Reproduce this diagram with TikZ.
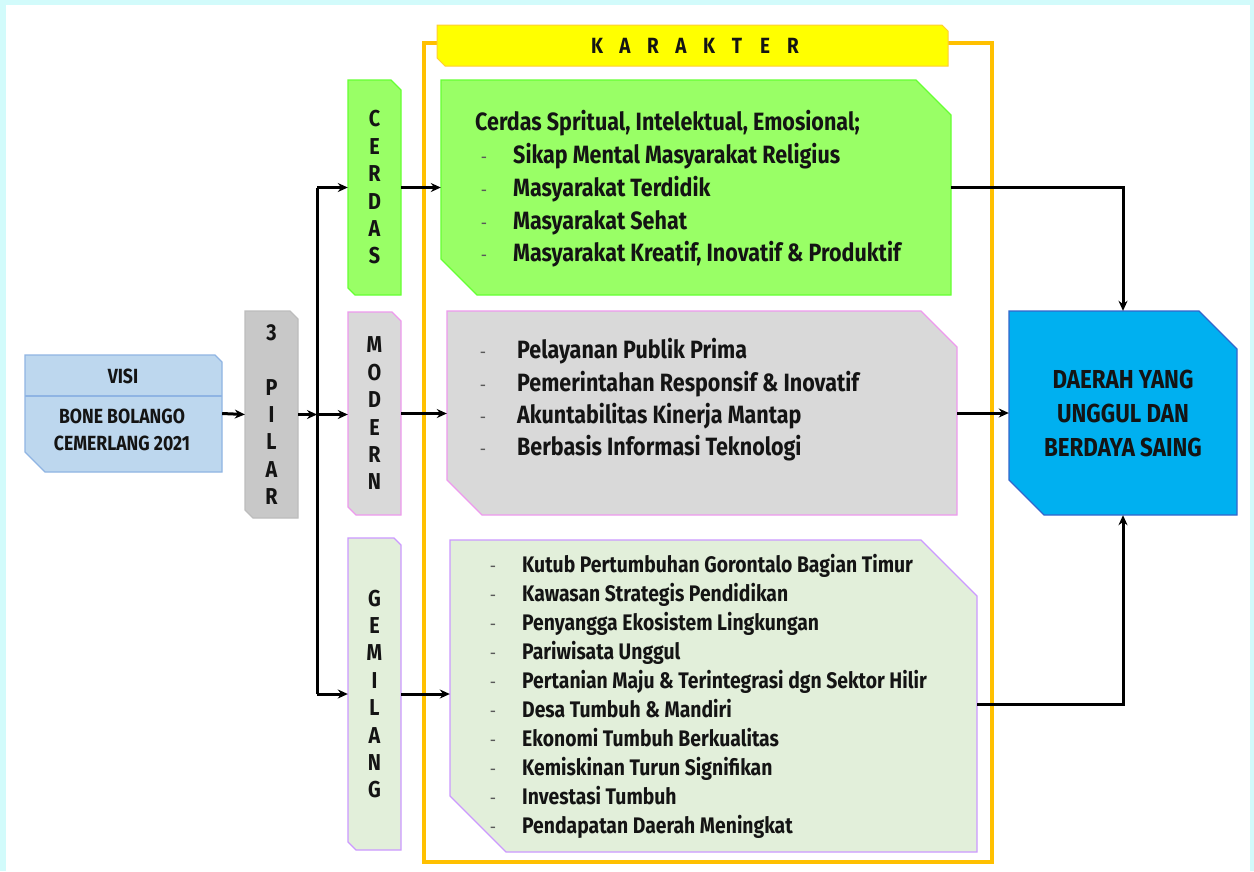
\documentclass[tikz,border=0pt]{standalone}
\usepackage{fontspec}
\setmainfont{Fira Sans}[FakeStretch=0.86]
\usetikzlibrary{fit,arrows.meta}
\definecolor{ink}{HTML}{141414}
\definecolor{bgcyan}{HTML}{D2FBFB}
\definecolor{visifill}{HTML}{BDD7EE}
\definecolor{visiline}{HTML}{8FB4E3}
\definecolor{pilarfill}{HTML}{C8C8C8}
\definecolor{pilarline}{HTML}{BDBDBD}
\definecolor{grfill}{HTML}{99FF66}
\definecolor{grline}{HTML}{66FF33}
\definecolor{gyfill}{HTML}{D9D9D9}
\definecolor{gyline}{HTML}{EE99EE}
\definecolor{lgfill}{HTML}{E2EFDA}
\definecolor{lgline}{HTML}{CC99FF}
\definecolor{blfill}{HTML}{00B0F0}
\definecolor{blline}{HTML}{3366CC}
\definecolor{orng}{HTML}{FFC000}
\definecolor{yel}{HTML}{FFFF00}
\newcommand\cbox[8]{%
  \path (#2,#3) coordinate (#1-nw) (#4,#5) coordinate (#1-se);
  \node[fit=(#1-nw)(#1-se), inner sep=0pt, draw=none] (#1) {};
  \draw[#8] (#2,#3) -- ({#4-#6},#3) -- (#4,{#3+#6}) -- (#4,#5) -- ({#2+#7},#5) -- (#2,{#5-#7}) -- cycle;
}
\newcommand\lsp[1]{\makebox[28pt]{#1}}
\begin{document}
\begin{tikzpicture}[x=1pt,y=-1pt,
  conn/.style={line width=3pt, draw=black},
  arr/.style={conn, -{Stealth[length=10pt,width=9pt]}},
  txt/.style={anchor=base west, inner sep=0pt, text=ink, font=\bfseries\fontsize{25}{30}\selectfont},
  stxt/.style={anchor=base west, inner sep=0pt, text=ink, font=\bfseries\fontsize{22.5}{26}\selectfont},
  dsh/.style={anchor=base, inner sep=0pt, text=black!65, font=\fontsize{18}{20}\selectfont},
  vtxt/.style={align=center, inner sep=0pt, text=ink, font=\bfseries\fontsize{23}{27.4}\selectfont},
]
\useasboundingbox (0,0) rectangle (1254,871);
\fill[bgcyan] (0,0) rectangle (1254,871);
\fill[white] (6,5) rectangle (1250,871);

% left column
\cbox{visi}{25}{355}{222}{472}{7}{20}{fill=visifill, draw=visiline, line width=1.3pt}
\draw[visiline, line width=1.3pt] (25,396) -- (222,396);
\node[text=ink, font=\bfseries\fontsize{20.5}{27}\selectfont, inner sep=0pt] (visiT) at (123,376) {VISI};
\node[text=ink, font=\bfseries\fontsize{20.5}{27}\selectfont, inner sep=0pt, align=center] (visiB) at (122,430) {BONE BOLANGO\\CEMERLANG 2021};

\cbox{pilar}{245}{311}{298}{518}{8}{8}{fill=pilarfill, draw=pilarline, line width=1.3pt}
\node[vtxt] (pilarT) at (pilar) {3\\ \\P\\I\\L\\A\\R};

\cbox{cerdasP}{348}{80}{401}{295}{10}{7}{fill=grfill, draw=grline, line width=1.3pt}
\node[vtxt] (cerdasT) at (cerdasP) {C\\E\\R\\D\\A\\S};
\cbox{modernP}{348}{312}{401}{515}{9}{8}{fill=gyfill, draw=gyline, line width=1.3pt}
\node[vtxt] (modernT) at (modernP) {M\\O\\D\\E\\R\\N};
\cbox{gemP}{348}{538}{401}{850}{7}{8}{fill=lgfill, draw=lgline, line width=1.3pt}
\node[vtxt] (gemT) at (gemP) {G\\E\\M\\I\\L\\A\\N\\G};

% karakter frame
\draw[orng, line width=4pt] (424,43) rectangle (992,862);
\cbox{banner}{437}{25}{948}{66}{6}{8}{fill=yel, draw=orng!80, line width=1pt}
\node[text=ink, font=\bfseries\fontsize{22}{26}\selectfont, inner sep=0pt] (karT) at (695,46) {\lsp{K}\lsp{A}\lsp{R}\lsp{A}\lsp{K}\lsp{T}\lsp{E}\lsp{R}};

% big boxes
\cbox{green}{441}{80}{951}{295}{35}{36}{fill=grfill, draw=grline, line width=1.3pt}
\node[txt] (g0) at (475,130.5) {Cerdas Spritual, Intelektual, Emosional;};
\node[dsh] (gd1) at (484,163.5) {-};
\node[txt] (g1) at (513,163.5) {Sikap Mental Masyarakat Religius};
\node[dsh] (gd2) at (484,196.5) {-};
\node[txt] (g2) at (513,196.5) {Masyarakat Terdidik};
\node[dsh] (gd3) at (484,229.5) {-};
\node[txt] (g3) at (513,229.5) {Masyarakat Sehat};
\node[dsh] (gd4) at (484,261.5) {-};
\node[txt] (g4) at (513,261.5) {Masyarakat Kreatif, Inovatif \& Produktif};

\cbox{gray}{447}{311}{957}{515}{36}{35}{fill=gyfill, draw=gyline, line width=1.3pt}
\node[dsh] (yd1) at (483,358.5) {-};
\node[txt] (y1) at (517,358.5) {Pelayanan Publik Prima};
\node[dsh] (yd2) at (483,391.5) {-};
\node[txt] (y2) at (517,391.5) {Pemerintahan Responsif \& Inovatif};
\node[dsh] (yd3) at (483,423.5) {-};
\node[txt] (y3) at (517,423.5) {Akuntabilitas Kinerja Mantap};
\node[dsh] (yd4) at (483,455.5) {-};
\node[txt] (y4) at (517,455.5) {Berbasis Informasi Teknologi};

\cbox{lgreen}{450}{540}{977}{852}{56}{56}{fill=lgfill, draw=lgline, line width=1.3pt}
\foreach \i/\yy/\t in {1/572/Kutub Pertumbuhan Gorontalo Bagian Timur,
  2/601.1/Kawasan Strategis Pendidikan,
  3/630.2/Penyangga Ekosistem Lingkungan,
  4/659.3/Pariwisata Unggul,
  5/688.4/Pertanian Maju \& Terintegrasi dgn Sektor Hilir,
  6/717.5/Desa Tumbuh \& Mandiri,
  7/746.6/Ekonomi Tumbuh Berkualitas,
  8/775.7/Kemiskinan Turun Signifikan,
  9/804.8/Investasi Tumbuh,
  10/833.9/Pendapatan Daerah Meningkat}{
  \node[dsh] (ld\i) at (493,\yy) {-};
  \node[stxt] (l\i) at (522,\yy) {\t};
}

% result box
\cbox{blue}{1009}{311}{1237}{515}{38}{35}{fill=blfill, draw=blline, line width=1.2pt}
\node[text=ink, font=\bfseries\fontsize{26}{34}\selectfont, inner sep=0pt, align=center] (blueT) at (1123,413) {DAERAH YANG\\UNGGUL DAN\\BERDAYA SAING};

% connectors
\coordinate (bus) at (317,414.5);
\coordinate (busTop) at (317,187.5);
\coordinate (busBot) at (317,694);
\draw[arr] (visi.east) -- (pilar.west);
\draw[arr] (pilar.east) -- (bus);
\draw[conn] (busTop) -- (busBot);
\draw[arr] (busTop) -- (cerdasP.west);
\draw[arr] (bus) -- (bus -| modernP.west);
\draw[arr] (busBot) -- (gemP.west);
\draw[arr] (cerdasP.east) -- (green.west);
\draw[arr] (modernP.east) -- (modernP.east -| gray.west);
\draw[arr] (gemP.east) -- (gemP.east -| lgreen.west);
\draw[arr] (green.east) -| (blue.north);
\draw[arr] (gray.east) -- (gray.east -| blue.west);
\draw[arr] ([yshift=-8pt]lgreen.east) -| (blue.south);
\end{tikzpicture}
\end{document}
